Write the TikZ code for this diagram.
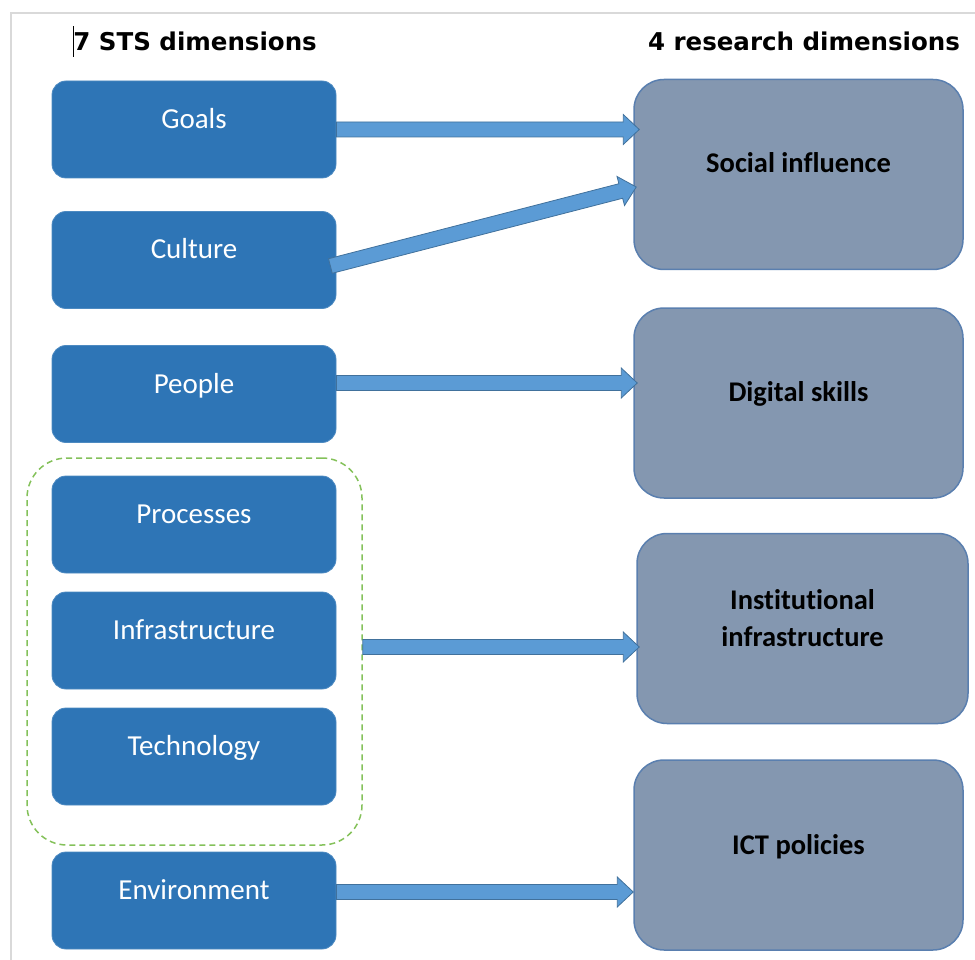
\documentclass[tikz,border=0pt]{standalone}
\usepackage{fontspec}
\usepackage{tikz}
\usetikzlibrary{calc}
\newfontfamily\carlito{Carlito}[Ligatures=NoCommon]
\newfontfamily\headfont{DejaVu Sans}
\definecolor{stsblue}{HTML}{2E75B6}
\definecolor{resgray}{HTML}{8497B0}
\definecolor{resedge}{HTML}{5A7FAF}
\definecolor{arrfill}{HTML}{5B9BD5}
\definecolor{arredge}{HTML}{41719C}
\definecolor{grpgreen}{HTML}{84C15A}
\definecolor{pagegray}{HTML}{D9D9D9}
\newcommand{\fatarrow}[2]{%
  \path (#2) coordinate (tip) ($(#2)!16pt!(#1)$) coordinate (hb);
  \filldraw[fatarr] ($(#1)!7.5pt!90:(tip)$) -- ($(hb)!7.5pt!90:(tip)$) -- ($(hb)!15pt!90:(tip)$) -- (tip)
    -- ($(hb)!15pt!-90:(tip)$) -- ($(hb)!7.5pt!-90:(tip)$) -- ($(#1)!7.5pt!-90:(tip)$) -- cycle;}
\begin{document}
\begin{tikzpicture}[x=1pt,y=-1pt]
\tikzstyle{stsbox}=[rectangle, rounded corners=14pt, fill=stsblue, draw=stsblue!85!white, line width=0.8pt, minimum width=284pt, minimum height=97pt, inner sep=0pt]
\tikzstyle{ststext}=[font=\carlito\fontsize{29}{35}\selectfont, text=white, text height=19pt, text depth=0pt, inner sep=0pt]
\tikzstyle{resbox}=[rectangle, rounded corners=30pt, fill=resgray, draw=resedge, line width=1.5pt, minimum width=329pt, minimum height=190pt, inner sep=0pt]
\tikzstyle{restext}=[font=\carlito\bfseries\fontsize{28.5}{37}\selectfont, text=black, inner sep=0pt]
\tikzstyle{oneline}=[text height=19pt, text depth=0pt]
\tikzstyle{head}=[font=\headfont\bfseries\fontsize{24.5}{29}\selectfont, text height=18pt, text depth=0pt, inner sep=0pt]
\tikzstyle{grpbox}=[draw=grpgreen, dash pattern=on 6pt off 4pt, line width=1.5pt, rounded corners=40pt, minimum width=335pt, minimum height=387pt, inner sep=0pt]
\tikzstyle{fatarr}=[fill=arrfill, draw=arredge, line width=0.8pt, line join=miter]
\useasboundingbox (0,0) rectangle (975,960);
\draw[pagegray, line width=2pt] (11,960) -- (11,13) -- (975,13);
\node[head] (stshead) at (195,42) {\rule[-6pt]{1.2pt}{31pt}\kern-1pt7 STS dimensions};
\node[head] (reshead) at (804,42) {4 research dimensions};
\node[grpbox] (grp) at (194.5,651.5) {};
\node[stsbox] (goals) at (194,129.5) {};
\node[stsbox] (culture) at (194,260) {};
\node[stsbox] (people) at (194,394) {};
\node[stsbox] (processes) at (194,524.5) {};
\node[stsbox] (infra) at (194,640.5) {};
\node[stsbox] (tech) at (194,756.5) {};
\node[stsbox] (env) at (194,900.5) {};
\node[ststext] (goalst) at ($(goals.center)+(0,-10.5)$) {Goals};
\node[ststext] (culturet) at ($(culture.center)+(0,-10.5)$) {Culture};
\node[ststext] (peoplet) at ($(people.center)+(0,-10.5)$) {People};
\node[ststext] (processest) at ($(processes.center)+(0,-10.5)$) {Processes};
\node[ststext] (infrat) at ($(infra.center)+(0,-10.5)$) {Infrastructure};
\node[ststext] (techt) at ($(tech.center)+(0,-10.5)$) {Technology};
\node[ststext] (envt) at ($(env.center)+(0,-10.5)$) {Environment};
\node[resbox] (social) at (798.5,174.5) {};
\node[resbox] (digital) at (798.5,403) {};
\node[resbox, minimum width=331pt] (instit) at (802.5,628.5) {};
\node[resbox] (ict) at (798.5,855) {};
\node[restext, oneline] (socialt) at ($(social.center)+(0,-11)$) {Social influence};
\node[restext, oneline] (digitalt) at ($(digital.center)+(0,-11)$) {Digital skills};
\node[restext, align=center] (institt) at ($(instit.center)+(0,-10)$) {Institutional\\infrastructure};
\node[restext, oneline] (ictt) at ($(ict.center)+(0,-10)$) {ICT policies};
\coordinate (a1e) at ($(goals.east -| social.west)+(6,0)$);
\coordinate (a2s) at ($(culture.east)+(-6,6)$);
\coordinate (a2e) at ($(social.west)+(3,12.5)$);
\coordinate (a3s) at ($(people.east)+(0,-11)$);
\coordinate (a3e) at ($(a3s -| digital.west)+(4,0)$);
\coordinate (a4s) at ($(grp.east)+(0,-4.5)$);
\coordinate (a4e) at ($(a4s -| instit.west)+(3,0)$);
\coordinate (a5s) at ($(env.east)+(0,-8.5)$);
\coordinate (a5e) at (a5s -| ict.west);
\fatarrow{goals.east}{a1e}
\fatarrow{a2s}{a2e}
\fatarrow{a3s}{a3e}
\fatarrow{a4s}{a4e}
\fatarrow{a5s}{a5e}
\end{tikzpicture}
\end{document}
